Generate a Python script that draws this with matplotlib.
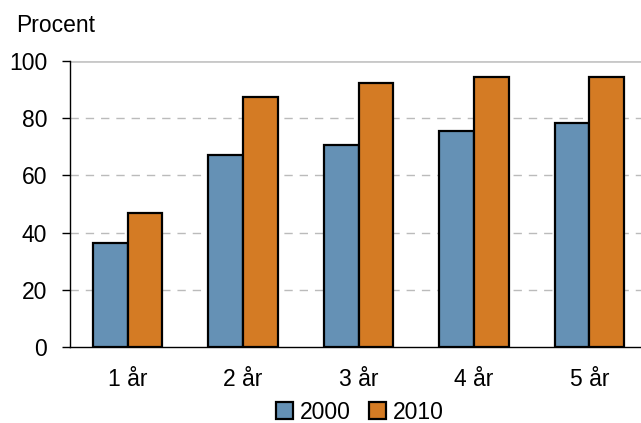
import matplotlib.pyplot as plt
import numpy as np

categories = ['1 år', '2 år', '3 år', '4 år', '5 år']
years = ['2000', '2010']
values_2000 = [36.2, 67.1, 70.6, 75.6, 78.3]
values_2010 = [46.7, 87.4, 92.3, 94.6, 94.4]
yticks = [0, 20, 40, 60, 80, 100]

plt.rcParams['font.family'] = ['Liberation Sans', 'DejaVu Sans']
FS = 16.5

fig = plt.figure(figsize=(6.41, 4.23), dpi=100)
W, H = 641, 423
ax = fig.add_axes([70 / W, (H - 346.7) / H, 577 / W, (346.7 - 61.3) / H])

x = np.arange(len(categories))
w = 0.3
ax.bar(x - w / 2, values_2000, w, color='#6591b5', edgecolor='black', linewidth=1.6, label=years[0], zorder=3)
ax.bar(x + w / 2, values_2010, w, color='#d47b24', edgecolor='black', linewidth=1.6, label=years[1], zorder=3)

ax.set_xlim(-0.5, len(categories) - 0.5)
ax.set_ylim(0, 100)
ax.set_yticks(yticks)
ax.set_xticks(x)
ax.set_xticklabels(categories)
ax.tick_params(axis='y', length=6, width=1, labelsize=FS, pad=10.5)
ax.tick_params(axis='x', length=0, labelsize=FS, pad=15)

for t in yticks[1:-1]:
    ax.axhline(t, color='#bbbbbb', linestyle=(0, (6, 5)), linewidth=1, zorder=1)
ax.axhline(100, color='#c8c8c8', linewidth=2, zorder=1)

for s in ['top', 'right']:
    ax.spines[s].set_visible(False)
ax.spines['left'].set_linewidth(1)
ax.spines['bottom'].set_linewidth(1)

fig.text(16 / W, 1 - 25 / H, 'Procent', fontsize=FS, va='center', ha='left')

ax.legend(loc='center', bbox_to_anchor=(360 / W, 1 - 412 / H), bbox_transform=fig.transFigure,
          ncol=2, frameon=False, fontsize=FS, handlelength=0.75, handleheight=0.75,
          handletextpad=0.3, columnspacing=0.8, borderpad=0)

fig.savefig('out.png', dpi=100)
